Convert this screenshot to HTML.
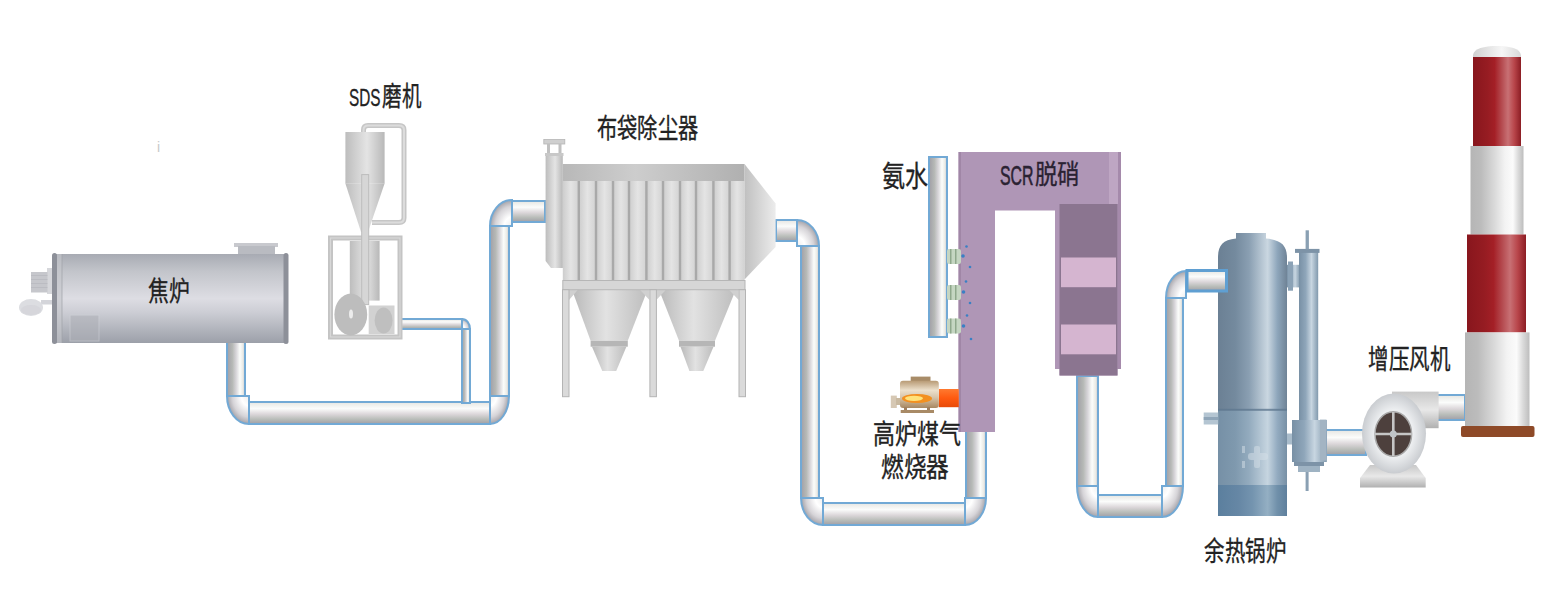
<!DOCTYPE html>
<html lang="zh-CN">
<head>
<meta charset="utf-8">
<style>
html,body{margin:0;padding:0;background:#fff;width:1567px;height:603px;overflow:hidden;}
svg{position:absolute;left:0;top:0;display:block;}
.t{font-family:"Liberation Sans",sans-serif;fill:#222;stroke:#222;stroke-width:0.35px;}
</style>
</head>
<body>
<svg width="1567" height="603" viewBox="0 0 1567 603">
<defs>
  <linearGradient id="pv" x1="0" y1="0" x2="1" y2="0">
    <stop offset="0" stop-color="#a09ea6"/>
    <stop offset="0.3" stop-color="#b6b9b6"/>
    <stop offset="0.5" stop-color="#d6d4d8"/>
    <stop offset="0.72" stop-color="#fbfdfb"/>
    <stop offset="0.88" stop-color="#ebebe6"/>
    <stop offset="1" stop-color="#c8c8cc"/>
  </linearGradient>
  <linearGradient id="ph" x1="0" y1="0" x2="0" y2="1">
    <stop offset="0" stop-color="#e6e6e2"/>
    <stop offset="0.3" stop-color="#fbfcfb"/>
    <stop offset="0.55" stop-color="#dcd7da"/>
    <stop offset="0.78" stop-color="#b9bdb9"/>
    <stop offset="1" stop-color="#a09ea6"/>
  </linearGradient>
  <radialGradient id="peBL" cx="1" cy="0" r="1"><stop offset="0" stop-color="#eeeeee"/><stop offset="0.35" stop-color="#ffffff"/><stop offset="0.75" stop-color="#d6d4d8"/><stop offset="1" stop-color="#a4a2a8"/></radialGradient>
  <radialGradient id="peBR" cx="0" cy="0" r="1"><stop offset="0" stop-color="#eeeeee"/><stop offset="0.35" stop-color="#ffffff"/><stop offset="0.75" stop-color="#d6d4d8"/><stop offset="1" stop-color="#a4a2a8"/></radialGradient>
  <radialGradient id="peTL" cx="1" cy="1" r="1"><stop offset="0" stop-color="#eeeeee"/><stop offset="0.35" stop-color="#ffffff"/><stop offset="0.75" stop-color="#d6d4d8"/><stop offset="1" stop-color="#a4a2a8"/></radialGradient>
  <radialGradient id="peTR" cx="0" cy="1" r="1"><stop offset="0" stop-color="#eeeeee"/><stop offset="0.35" stop-color="#ffffff"/><stop offset="0.75" stop-color="#d6d4d8"/><stop offset="1" stop-color="#a4a2a8"/></radialGradient>
  <linearGradient id="oven" x1="0" y1="0" x2="0" y2="1">
    <stop offset="0" stop-color="#a8abb3"/>
    <stop offset="0.2" stop-color="#c3c5cb"/>
    <stop offset="0.5" stop-color="#dddde3"/>
    <stop offset="0.65" stop-color="#cdced5"/>
    <stop offset="1" stop-color="#9ca0a9"/>
  </linearGradient>
  <linearGradient id="gry" x1="0" y1="0" x2="1" y2="0">
    <stop offset="0" stop-color="#bdbdbd"/>
    <stop offset="0.55" stop-color="#e4e4e4"/>
    <stop offset="1" stop-color="#b8b8b8"/>
  </linearGradient>
  <linearGradient id="boil" x1="0" y1="0" x2="1" y2="0">
    <stop offset="0" stop-color="#6b8094"/>
    <stop offset="0.25" stop-color="#748a9e"/>
    <stop offset="0.45" stop-color="#8a9fb2"/>
    <stop offset="0.72" stop-color="#cad7e1"/>
    <stop offset="0.86" stop-color="#8ea6bb"/>
    <stop offset="1" stop-color="#6f8396"/>
  </linearGradient>
  <linearGradient id="boilD" x1="0" y1="0" x2="1" y2="0">
    <stop offset="0" stop-color="#5b7f9e"/>
    <stop offset="0.3" stop-color="#6687a5"/>
    <stop offset="0.5" stop-color="#7494af"/>
    <stop offset="0.72" stop-color="#94afc3"/>
    <stop offset="0.86" stop-color="#7090aa"/>
    <stop offset="1" stop-color="#5f809d"/>
  </linearGradient>
  <linearGradient id="red" x1="0" y1="0" x2="1" y2="0">
    <stop offset="0" stop-color="#88161d"/>
    <stop offset="0.3" stop-color="#961c22"/>
    <stop offset="0.45" stop-color="#a41f26"/>
    <stop offset="0.6" stop-color="#b54b50"/>
    <stop offset="0.73" stop-color="#c87074"/>
    <stop offset="0.86" stop-color="#b8454a"/>
    <stop offset="1" stop-color="#8c1d24"/>
  </linearGradient>
  <linearGradient id="wht" x1="0" y1="0" x2="1" y2="0">
    <stop offset="0" stop-color="#b5b5b5"/>
    <stop offset="0.2" stop-color="#bcbcbc"/>
    <stop offset="0.45" stop-color="#d9d9d9"/>
    <stop offset="0.65" stop-color="#f3f3f3"/>
    <stop offset="0.8" stop-color="#fbfbfb"/>
    <stop offset="0.9" stop-color="#dadada"/>
    <stop offset="1" stop-color="#bdbdbd"/>
  </linearGradient>
</defs>

<!-- tiny i -->
<text x="157" y="152" class="t" style="font-size:14px;fill:#c8c8c8;stroke:none">i</text>

<!-- ===== PIPES ===== -->
<g id="pipes" stroke="#72a9d5" stroke-width="2">
  <!-- pipe 1 -->
  <rect x="227" y="338" width="18" height="58" fill="url(#pv)"/>
  <path d="M249,396 L249,424 A22 28 0 0 1 227 396 Z" fill="url(#peBL)"/>
  <rect x="249" y="402" width="241" height="22" fill="url(#ph)"/>
  <path d="M490,396 L509,396 A19 28 0 0 1 490 424 Z" fill="url(#peBR)"/>
  <rect x="490" y="226" width="19" height="170" fill="url(#pv)"/>
  <path d="M512,226 L490,226 A22 26 0 0 1 512 200 Z" fill="url(#peTL)"/>
  <rect x="512" y="201" width="33" height="21" fill="url(#ph)"/>
  <!-- thin pipe -->
  <rect x="400" y="319" width="62" height="10" fill="url(#ph)"/>
  <path d="M462,329 L462,319 A8 10 0 0 1 470 329 Z" fill="url(#peTR)"/>
  <rect x="462" y="329" width="8" height="74" fill="url(#pv)"/>
  <!-- pipe 2 -->
  <rect x="776" y="220" width="21" height="21" fill="url(#ph)"/>
  <path d="M797,246 L797,220 A22 26 0 0 1 819 246 Z" fill="url(#peTR)"/>
  <rect x="801" y="246" width="18" height="252" fill="url(#pv)"/>
  <path d="M823,498 L823,525 A22 27 0 0 1 801 498 Z" fill="url(#peBL)"/>
  <rect x="823" y="503" width="142" height="22" fill="url(#ph)"/>
  <path d="M965,498 L986,498 A21 27 0 0 1 965 525 Z" fill="url(#peBR)"/>
  <rect x="966" y="430" width="20" height="68" fill="url(#pv)"/>
  <!-- pipe 3 -->
  <rect x="1077" y="376" width="21" height="110" fill="url(#pv)"/>
  <path d="M1098,486 L1098,517 A21 31 0 0 1 1077 486 Z" fill="url(#peBL)"/>
  <rect x="1098" y="495" width="64" height="22" fill="url(#ph)"/>
  <path d="M1162,486 L1183,486 A21 31 0 0 1 1162 517 Z" fill="url(#peBR)"/>
  <rect x="1166" y="298" width="17" height="188" fill="url(#pv)"/>
  <path d="M1186,298 L1166,298 A20 27 0 0 1 1186 271 Z" fill="url(#peTL)"/>
  
  <!-- ammonia pipe -->
  <rect x="929" y="157" width="18" height="180" fill="url(#pv)"/>
  <!-- boiler to fan -->
  <rect x="1326" y="430" width="40" height="25" fill="url(#ph)"/>
  <!-- fan to stack -->
  <rect x="1436" y="395" width="29" height="25" fill="url(#ph)"/>
</g>

<!-- ===== COKE OVEN ===== -->
<g id="oven">
  <rect x="47" y="268" width="5" height="26" fill="#d6d7db"/><rect x="31" y="272" width="16.5" height="20.5" fill="#c6c7cc"/><g fill="#b4b6bc" opacity="0.6"><rect x="31" y="275" width="16.5" height="1"/><rect x="31" y="279" width="16.5" height="1"/><rect x="31" y="283" width="16.5" height="1"/><rect x="31" y="287" width="16.5" height="1"/></g>
  <rect x="41" y="300" width="12" height="4.5" fill="#d4d5da"/>
  <ellipse cx="31" cy="307.5" rx="12" ry="8.5" fill="#dcdde1"/><ellipse cx="31" cy="310" rx="10" ry="5" fill="#cfd0d5" opacity="0.5"/>
  <rect x="234" y="243" width="44" height="4" fill="#c8c9ce"/>
  <rect x="238" y="246" width="37" height="9" fill="#b9bbc1"/>
  <rect x="54" y="254" width="232" height="89" fill="url(#oven)"/>
  <rect x="52" y="253" width="5" height="91" rx="2.5" fill="#8d9099"/><rect x="57" y="254" width="5" height="89" fill="#c4c6cc" opacity="0.6"/><rect x="61.5" y="254" width="1" height="89" fill="#9fa2aa" opacity="0.7"/>
  <rect x="283.5" y="253" width="5" height="91" rx="2.5" fill="#8d9099"/>
  <rect x="70" y="315" width="29" height="26" fill="#aeb0b7" opacity="0.55" stroke="#d0d2d8" stroke-width="1"/>
</g>

<!-- ===== SDS MILL ===== -->
<g id="sds">
  <path d="M363.5,132 V130 Q363.5,125.5 368,125.5 H399 Q404,125.5 404,130 V218 Q404,222.5 399,222.5 H372" fill="none" stroke="#c6c6c6" stroke-width="5"/>
  <path d="M363.5,132 V130 Q363.5,125.5 368,125.5 H399 Q404,125.5 404,130 V218 Q404,222.5 399,222.5 H372" fill="none" stroke="#dcdcdc" stroke-width="2"/>
  <rect x="345.4" y="132" width="39.2" height="51.6" fill="url(#gry)"/>
  <polygon points="345.4,183.6 384.6,183.6 368,232 361,232" fill="url(#gry)"/>
  <rect x="330.5" y="238" width="69.5" height="99" fill="none" stroke="#c4c4c4" stroke-width="5"/><rect x="330.5" y="238" width="69.5" height="99" fill="none" stroke="#d8d8d8" stroke-width="1.2"/>
  <rect x="349.8" y="241" width="29.8" height="59.6" fill="url(#gry)"/>
  <rect x="361.7" y="174.6" width="7" height="130" fill="#d6d6d6" stroke="#bcbcbc" stroke-width="1"/>
  <rect x="368.7" y="305.5" width="25.8" height="28.5" fill="#d2d2d2"/>
  <ellipse cx="350.8" cy="314.5" rx="16.4" ry="20.9" fill="#bdbdbd"/>
  <ellipse cx="351" cy="314" rx="2" ry="4.5" fill="#ececec"/>
  <ellipse cx="383.6" cy="320.5" rx="9" ry="13" fill="#bfbfbf"/>
</g>

<!-- ===== BAG FILTER ===== -->
<g id="bag">
  <linearGradient id="bagg" x1="0" y1="0" x2="1" y2="0">
    <stop offset="0" stop-color="#cdcdcd"/>
    <stop offset="0.5" stop-color="#e4e4e4"/>
    <stop offset="1" stop-color="#d2d2d2"/>
  </linearGradient>
  <linearGradient id="hdr" x1="0" y1="0" x2="1" y2="0">
    <stop offset="0" stop-color="#b8b8b8"/>
    <stop offset="0.4" stop-color="#cdcdcd"/>
    <stop offset="1" stop-color="#b0b0b0"/>
  </linearGradient>
  <linearGradient id="hood" x1="0" y1="0" x2="1" y2="0">
    <stop offset="0" stop-color="#c0c0c0"/>
    <stop offset="1" stop-color="#ececec"/>
  </linearGradient>
  <linearGradient id="hop" x1="0" y1="0" x2="1" y2="0">
    <stop offset="0" stop-color="#b9b9b9"/>
    <stop offset="0.45" stop-color="#e2e2e2"/>
    <stop offset="1" stop-color="#bdbdbd"/>
  </linearGradient>
  <rect x="562.8" y="181" width="16.0" height="99" fill="url(#bagg)"/><rect x="578.8" y="181" width="17.2" height="99" fill="url(#bagg)"/><rect x="596.0" y="181" width="17.0" height="99" fill="url(#bagg)"/><rect x="613.0" y="181" width="16.0" height="99" fill="url(#bagg)"/><rect x="629.0" y="181" width="17.4" height="99" fill="url(#bagg)"/><rect x="646.4" y="181" width="16.6" height="99" fill="url(#bagg)"/><rect x="663.0" y="181" width="17.0" height="99" fill="url(#bagg)"/><rect x="680.0" y="181" width="16.0" height="99" fill="url(#bagg)"/><rect x="696.0" y="181" width="17.4" height="99" fill="url(#bagg)"/><rect x="713.4" y="181" width="16.2" height="99" fill="url(#bagg)"/><rect x="729.6" y="181" width="14.9" height="99" fill="url(#bagg)"/><rect x="577.6" y="181" width="2.4" height="99" fill="#a9a9a9"/><rect x="594.8" y="181" width="2.4" height="99" fill="#a9a9a9"/><rect x="611.8" y="181" width="2.4" height="99" fill="#a9a9a9"/><rect x="627.8" y="181" width="2.4" height="99" fill="#a9a9a9"/><rect x="645.2" y="181" width="2.4" height="99" fill="#a9a9a9"/><rect x="661.8" y="181" width="2.4" height="99" fill="#a9a9a9"/><rect x="678.8" y="181" width="2.4" height="99" fill="#a9a9a9"/><rect x="694.8" y="181" width="2.4" height="99" fill="#a9a9a9"/><rect x="712.2" y="181" width="2.4" height="99" fill="#a9a9a9"/><rect x="728.4" y="181" width="2.4" height="99" fill="#a9a9a9"/>
  <rect x="562.8" y="164" width="181.7" height="17" fill="url(#hdr)"/>
  <polygon points="744.5,164 775.6,203.5 775.6,247 744.5,279.4" fill="url(#hood)"/>
  <path d="M545.6,155 H562.8 V268 H551 L545.6,261 Z" fill="url(#gry)"/>
  <rect x="543.8" y="139.5" width="21" height="4.5" fill="#cfcfcf" stroke="#b5b5b5" stroke-width="0.8"/>
  <rect x="547" y="144" width="3" height="11" fill="#c0c0c0"/>
  <rect x="558.5" y="144" width="3" height="11" fill="#c0c0c0"/>
  <rect x="545" y="153" width="18.5" height="3" fill="#c8c8c8"/>
  <polygon points="572,289.7 647.6,289.7 627.8,340.8 590.6,340.8" fill="url(#hop)"/>
  <rect x="590.6" y="340.8" width="37.2" height="5.9" fill="#b6b6b6"/>
  <polygon points="592,346.7 626.4,346.7 616.2,371 602.3,371" fill="url(#hop)"/>
  <polygon points="659,289.7 735.8,289.7 715,340.8 679,340.8" fill="url(#hop)"/>
  <rect x="679" y="340.8" width="36" height="5.9" fill="#b6b6b6"/>
  <polygon points="680.5,346.7 713.5,346.7 703.3,371 689.4,371" fill="url(#hop)"/>
  <polygon points="569,289.7 578,289.7 569,300" fill="#d0d0d0"/>
  <polygon points="640,289.7 649.4,289.7 649.4,300" fill="#d0d0d0"/>
  <polygon points="656.4,289.7 666,289.7 656.4,300" fill="#d0d0d0"/>
  <polygon points="729,289.7 738.6,289.7 738.6,300" fill="#d0d0d0"/>
  <rect x="562.8" y="280.5" width="182.2" height="9.2" fill="#d6d6d6" stroke="#b6b6b6" stroke-width="1"/>
  <rect x="562.5" y="289.7" width="6.5" height="107" fill="#dadada" stroke="#b4b4b4" stroke-width="1"/>
  <rect x="649.9" y="289.7" width="6.5" height="107" fill="#dadada" stroke="#b4b4b4" stroke-width="1"/>
  <rect x="739" y="289.7" width="6.5" height="107" fill="#dadada" stroke="#b4b4b4" stroke-width="1"/>
</g>

<!-- ===== SCR ===== -->
<g id="scr">
  <path d="M958.5,152 H1121 V369 H1117.5 V375.5 H1059.5 V369 H1055 V210.5 H995 V432 H958.5 Z" fill="#af96b6"/>
  <rect x="958.5" y="152" width="2.5" height="280" fill="#9a7f9f" opacity="0.7"/>
  <rect x="1109" y="152" width="9" height="52" fill="#bea6c3"/>
  <rect x="1118" y="152" width="3" height="217" fill="#a58aab"/>
  <rect x="1059.5" y="204" width="58" height="171.5" fill="#8b7590"/>
  <rect x="1061" y="257.5" width="55" height="29.7" fill="#d5b5d0"/>
  <rect x="1061" y="324.5" width="55" height="29.8" fill="#d5b5d0"/>
  <!-- nozzles -->
  <g fill="#c5d6c2">
    <rect x="947" y="249" width="14" height="15" rx="2"/>
    <rect x="947" y="285" width="14" height="15" rx="2"/>
    <rect x="947" y="318.5" width="14" height="15" rx="2"/>
  </g>
  <g fill="#8fa88c">
    <rect x="950" y="249" width="1.5" height="15"/><rect x="955" y="249" width="1.5" height="15"/>
    <rect x="950" y="285" width="1.5" height="15"/><rect x="955" y="285" width="1.5" height="15"/>
    <rect x="950" y="318.5" width="1.5" height="15"/><rect x="955" y="318.5" width="1.5" height="15"/>
  </g>
  <g fill="#3a80c4">
    <circle cx="963" cy="256" r="1.8"/><circle cx="966.5" cy="246.5" r="1.3"/><circle cx="970" cy="267" r="1.3"/>
    <circle cx="963.5" cy="292" r="1.8"/><circle cx="966" cy="281.5" r="1.3"/><circle cx="970" cy="303" r="1.3"/>
    <circle cx="963.5" cy="326" r="1.8"/><circle cx="967" cy="315.5" r="1.3"/><circle cx="971" cy="339" r="1.3"/>
  </g>
  <!-- burner -->
  <linearGradient id="orp" x1="0" y1="0" x2="0" y2="1">
    <stop offset="0" stop-color="#ff7a30"/>
    <stop offset="0.5" stop-color="#ff5a10"/>
    <stop offset="1" stop-color="#e84a08"/>
  </linearGradient>
  <rect x="938.8" y="389" width="20" height="18.2" fill="url(#orp)"/>
  <rect x="890.8" y="395.6" width="6" height="12.4" fill="#d6c8b4"/>
  <rect x="896" y="398" width="5" height="7" fill="#c9b9a0"/>
  <rect x="910.7" y="376.6" width="19.8" height="4.5" fill="#a88c68"/>
  <linearGradient id="burn" x1="0" y1="0" x2="0" y2="1">
    <stop offset="0" stop-color="#b89a74"/>
    <stop offset="0.35" stop-color="#ece0cc"/>
    <stop offset="0.6" stop-color="#d8c6ac"/>
    <stop offset="1" stop-color="#a88862"/>
  </linearGradient>
  <rect x="900" y="380.7" width="38.8" height="27.3" rx="3" fill="url(#burn)"/>
  <ellipse cx="917" cy="398.5" rx="15" ry="4.6" fill="#f39020"/>
  <ellipse cx="914" cy="398.3" rx="9" ry="2.6" fill="#ffe27a"/>
  <rect x="904" y="407" width="3" height="4" fill="#a08060"/>
  <rect x="927" y="407" width="3" height="4" fill="#a08060"/>
  <rect x="900.7" y="410" width="33.3" height="3" fill="#a88a66"/>
</g>

<!-- ===== BOILER ===== -->
<g id="boiler">
  <linearGradient id="col" x1="0" y1="0" x2="1" y2="0">
    <stop offset="0" stop-color="#7890a5"/>
    <stop offset="0.35" stop-color="#8fa6ba"/>
    <stop offset="0.65" stop-color="#c8d6e1"/>
    <stop offset="1" stop-color="#8199ad"/>
  </linearGradient>
  <linearGradient id="boilL" x1="0" y1="0" x2="1" y2="0">
    <stop offset="0" stop-color="#7690a6"/>
    <stop offset="0.25" stop-color="#7f99ae"/>
    <stop offset="0.45" stop-color="#93abbe"/>
    <stop offset="0.72" stop-color="#c6d5e0"/>
    <stop offset="0.86" stop-color="#93abc0"/>
    <stop offset="1" stop-color="#7890a5"/>
  </linearGradient>
  <rect x="1286" y="264.8" width="14" height="22.6" fill="url(#col)"/>
  <rect x="1288" y="261.5" width="5" height="29.2" fill="#8ba2b6"/>
  <path d="M1218,516 V258 C1218,246 1222,240 1236,238.5 V233 H1266 V238.5 C1282,240 1287,246 1287,258 V516 Z" fill="url(#boil)"/>
  <rect x="1218" y="410" width="69" height="75" fill="url(#boilL)"/>
  <rect x="1218" y="408.8" width="69" height="2" fill="#5f7890" opacity="0.8"/>
  <rect x="1218" y="485" width="69" height="31" fill="url(#boilD)"/>
  <rect x="1203.7" y="412.5" width="14.5" height="12" fill="#b4c5d2"/>
  <rect x="1203.7" y="417" width="14.5" height="3" fill="#8fa5b8"/>
  <rect x="1287" y="433.5" width="6" height="11" fill="#a9bccb"/>
  <rect x="1299" y="250" width="19.2" height="215" fill="url(#col)"/>
  <rect x="1295" y="248.9" width="24.5" height="4" fill="#7d93a7"/>
  <rect x="1305.6" y="230.3" width="3.3" height="19" fill="#8aa0b3"/>
  <rect x="1292" y="420" width="34.8" height="42" fill="url(#col)"/>
  <rect x="1294" y="462" width="30" height="4" fill="#7d93a7"/>
  <rect x="1298" y="466" width="22" height="6" fill="#9fb3c3"/>
  <rect x="1305.6" y="472" width="3" height="19" fill="#8aa0b3"/>
  <g fill="#d6e0e8" opacity="0.5">
    <rect x="1242" y="446" width="3" height="7"/><rect x="1242" y="461" width="3" height="7"/>
    <rect x="1248" y="453" width="20" height="7" rx="3"/>
    <rect x="1254" y="446" width="6" height="22" rx="2"/>
  </g>
</g>

<rect x="1187" y="270.5" width="39.5" height="20.5" fill="url(#ph)" stroke="#5f9fd2" stroke-width="3"/>
<!-- ===== FAN ===== -->
<g id="fan">
  <linearGradient id="fang" x1="0" y1="0" x2="0" y2="1">
    <stop offset="0" stop-color="#c8c8c8"/>
    <stop offset="0.5" stop-color="#e8e8e8"/>
    <stop offset="1" stop-color="#b0b0b0"/>
  </linearGradient>
  <radialGradient id="fanr" cx="0.5" cy="0.5" r="0.5">
    <stop offset="0.6" stop-color="#eceef0"/>
    <stop offset="1" stop-color="#c9ccd0"/>
  </radialGradient>
  <rect x="1320" y="419.6" width="6.5" height="41" fill="#a3b4c3"/>
  <rect x="1392" y="391.6" width="46.6" height="36.6" fill="url(#fang)"/>
  <polygon points="1370,465 1416,465 1425.7,478 1425.7,487.5 1360,487.5 1360,478" fill="url(#fang)"/>
  <ellipse cx="1394" cy="433.5" rx="32" ry="40" fill="url(#fanr)"/>
  <ellipse cx="1393.3" cy="434" rx="18.3" ry="22.2" fill="#4d403d" stroke="#a8a8a8" stroke-width="1.5"/>
  <g stroke="#c6c6c6" stroke-width="2.6">
    <line x1="1393.3" y1="412" x2="1393.3" y2="456"/>
    <line x1="1375" y1="434" x2="1411.6" y2="434"/>
  </g>
  <circle cx="1393.3" cy="434" r="3.5" fill="#c0c4c8"/>
</g>

<!-- ===== STACK ===== -->
<g id="stack">
  <linearGradient id="cap" x1="0" y1="0" x2="1" y2="0"><stop offset="0" stop-color="#d0d0d0"/><stop offset="0.6" stop-color="#f6f6f6"/><stop offset="1" stop-color="#d8d8d8"/></linearGradient>
  <path d="M1473,58 V55 C1474,48.5 1484,46 1497,46 C1510,46 1520,48.5 1521,55 V58 Z" fill="url(#cap)"/>
  <rect x="1473" y="57" width="48" height="90" fill="url(#red)"/>
  <rect x="1470.5" y="146" width="53" height="88.5" fill="url(#wht)"/>
  <rect x="1467" y="234.5" width="59" height="98" fill="url(#red)"/>
  <rect x="1465" y="332.4" width="64.5" height="94" fill="url(#wht)"/>
  <rect x="1461" y="426" width="73.5" height="11" rx="2" fill="#8e4a28"/>
</g>

<!-- ===== TEXT ===== -->
<g class="t" style="font-size:27px">
  <text id="t1" x="349" y="105.5" style="font-size:24px" textLength="31.5" lengthAdjust="spacingAndGlyphs">SDS</text>
  <text id="t2" x="382" y="106" textLength="39" lengthAdjust="spacingAndGlyphs">磨机</text>
  <text id="t3" x="597" y="138" textLength="101" lengthAdjust="spacingAndGlyphs">布袋除尘器</text>
  <text id="t4" x="148" y="300.5" textLength="41.5" lengthAdjust="spacingAndGlyphs">焦炉</text>
  <text id="t5" x="881.5" y="186.5" style="font-size:29px" textLength="46" lengthAdjust="spacingAndGlyphs">氨水</text>
  <text id="t6" x="1000" y="184.5" style="fill:#2a2232;stroke:#2a2232;stroke-width:0.6px" textLength="33.5" lengthAdjust="spacingAndGlyphs">SCR</text>
  <text id="t7" x="1034.5" y="184" style="fill:#2a2232;stroke:#2a2232" textLength="45" lengthAdjust="spacingAndGlyphs">脱硝</text>
  <text id="t8" x="873" y="443.5" textLength="88" lengthAdjust="spacingAndGlyphs">高炉煤气</text>
  <text id="t9" x="881" y="476.5" textLength="68" lengthAdjust="spacingAndGlyphs">燃烧器</text>
  <text id="t10" x="1204" y="561" textLength="82" lengthAdjust="spacingAndGlyphs">余热锅炉</text>
  <text id="t11" x="1368" y="369" textLength="82" lengthAdjust="spacingAndGlyphs">增压风机</text>
</g>
</svg>
</body>
</html>
